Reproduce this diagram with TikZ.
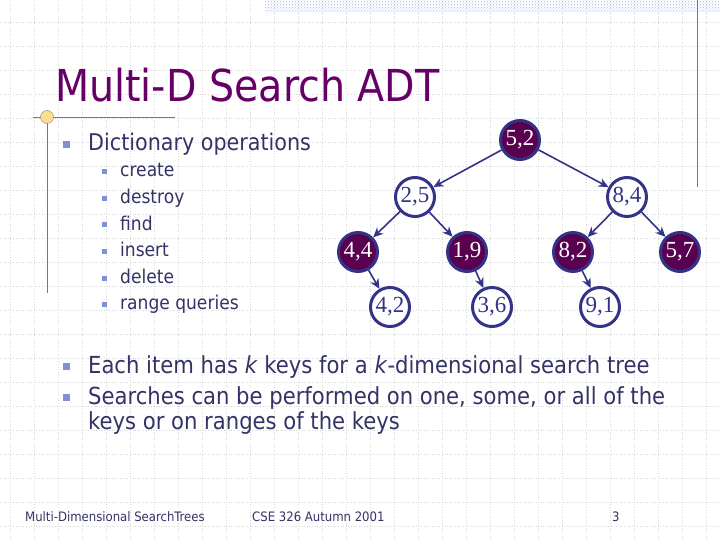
\documentclass[tikz,border=0pt]{standalone}
\usepackage{fontspec}
\setmainfont{DejaVu Sans Condensed}
\newfontfamily\serifnum{Liberation Serif}
\usetikzlibrary{arrows.meta,patterns}
\definecolor{ttl}{HTML}{660066}
\definecolor{txt}{HTML}{333366}
\definecolor{nodeb}{HTML}{333388}
\definecolor{nodef}{HTML}{5A0050}
\definecolor{bul}{HTML}{7F8FD8}
\definecolor{gridc}{HTML}{D8D8D8}
\tikzset{
  kd/.style={circle,draw=nodeb,line width=3pt,minimum size=39pt,inner sep=0pt,font=\serifnum\fontsize{23}{23}\selectfont},
  kdf/.style={kd,fill=nodef,text=white},
  kdw/.style={kd,fill=white,text=nodeb},
  edge/.style={draw=nodeb,line width=1.6pt,-{Stealth[length=10pt,width=9pt]},shorten >=0pt},
  item/.style={anchor=base west,text=txt,inner sep=0pt},
  bigbul/.style={fill=bul,minimum size=7pt,inner sep=0pt},
  smlbul/.style={fill=bul,minimum size=5pt,inner sep=0pt},
}
\begin{document}
\begin{tikzpicture}[x=1pt,y=-1pt]
\useasboundingbox (0,0) rectangle (720,540);
\fill[white] (0,0) rectangle (720,540);
\foreach \i in {0,...,30} {\draw[gridc,dotted,line width=0.6pt] (\i*24+10,0) -- (\i*24+10,540);}
\foreach \i in {0,...,22} {\draw[gridc,dotted,line width=0.6pt] (0,\i*24+22) -- (720,\i*24+22);}
\fill[pattern=crosshatch dots,pattern color=bul!70] (265,0) rectangle (720,13);
\draw[nodeb!70,line width=0.8pt] (697,0) -- (697,187);
\draw[nodeb!70,line width=0.8pt] (33,117) -- (175,117);
\draw[nodeb!70,line width=0.8pt] (47,117) -- (47,293);
\node[circle,fill=yellow!40!orange!40,draw=gray,minimum size=13pt,inner sep=0pt] (ring) at (47,117) {};
\node[anchor=base west,text=ttl,inner sep=0pt,font=\fontsize{44}{44}\selectfont] (title) at (55,102) {Multi-D Search ADT};
\node[bigbul] (b0) at (66,145) {};
\node[item,font=\fontsize{23}{23}\selectfont] (dict) at (88,151) {Dictionary operations};
\foreach \t [count=\k] in {create,destroy,find,insert,delete,range queries}{
  \node[smlbul] (sb\k) at (104,172+26.5*\k-26.5) {};
  \node[item,font=\fontsize{19}{19}\selectfont] (s\k) at (120,177+26.5*\k-26.5) {\t};
}
\node[bigbul] (b1) at (66,366) {};
\node[item,font=\fontsize{23.5}{23.5}\selectfont] (l1) at (88,373) {Each item has \textit{k} keys for a \textit{k}-dimensional search tree};
\node[bigbul] (b2) at (66,397) {};
\node[item,font=\fontsize{23.5}{23.5}\selectfont] (l2) at (88,404) {Searches can be performed on one, some, or all of the};
\node[item,font=\fontsize{23.5}{23.5}\selectfont] (l3) at (88,429) {keys or on ranges of the keys};
\node[item,font=\fontsize{13}{13}\selectfont] (f1) at (25,521) {Multi-Dimensional SearchTrees};
\node[item,font=\fontsize{13}{13}\selectfont] (f2) at (252,521) {CSE 326 Autumn 2001};
\node[item,font=\fontsize{13}{13}\selectfont] (f3) at (612,521) {3};
% tree
\node[kdf] (n52) at (520,140) {5,2};
\node[kdw] (n25) at (415,197) {2,5};
\node[kdw] (n84) at (627,197) {8,4};
\node[kdf] (n44) at (358,252) {4,4};
\node[kdf] (n19) at (467,252) {1,9};
\node[kdf] (n82) at (573,252) {8,2};
\node[kdf] (n57) at (680,252) {5,7};
\node[kdw] (n42) at (390,307) {4,2};
\node[kdw] (n36) at (492,307) {3,6};
\node[kdw] (n91) at (600,307) {9,1};
\draw[edge] (n52) -- (n25);
\draw[edge] (n52) -- (n84);
\draw[edge] (n25) -- (n44);
\draw[edge] (n25) -- (n19);
\draw[edge] (n84) -- (n82);
\draw[edge] (n84) -- (n57);
\draw[edge] (n44) -- (n42);
\draw[edge] (n19) -- (n36);
\draw[edge] (n82) -- (n91);
\end{tikzpicture}
\end{document}
